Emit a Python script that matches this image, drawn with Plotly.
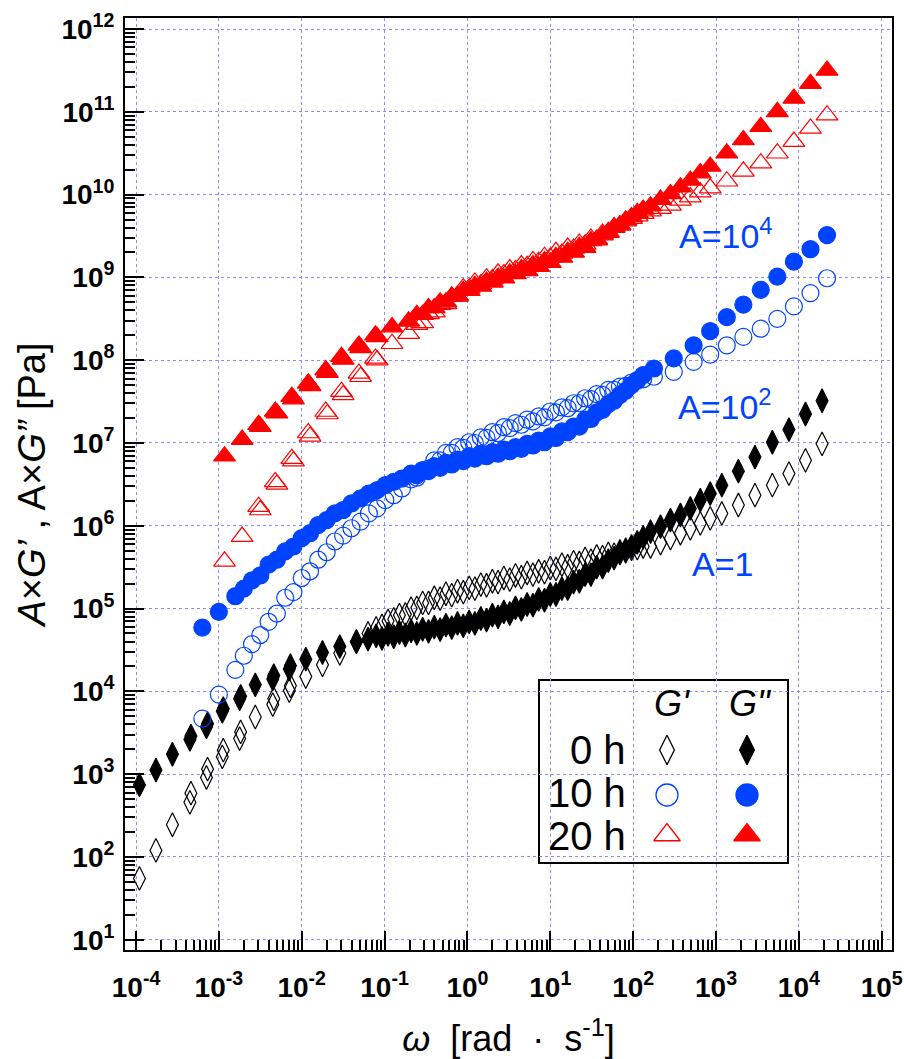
import plotly.graph_objects as go

# ---------------- data (plotted values A x G', A x G'') ----------------
# 0 h  (A = 1)
omega_0h_low = [1.10e-4, 1.74e-4, 2.75e-4, 4.47e-4, 4.60e-4, 7.08e-4, 7.30e-4, 1.10e-3, 1.13e-3,
                1.78e-3, 1.83e-3, 2.75e-3, 4.47e-3, 4.60e-3, 7.08e-3, 7.30e-3, 1.12e-2, 1.78e-2,
                2.88e-2, 4.57e-2, 6.31e-2]
Gp_0h_low = [55, 120, 245, 457, 589, 912, 1150, 1620, 1950, 2690, 3240, 4900, 6920, 8130,
             1.02e4, 1.17e4, 1.51e4, 2.09e4, 2.88e4, 3.98e4, 5.01e4]
Gpp_0h_low = [741, 1120, 1740, 2630, 2880, 3720, 4070, 5750, 6170, 8130, 8710, 1.20e4, 1.41e4,
              1.55e4, 1.86e4, 2.04e4, 2.45e4, 2.95e4, 3.47e4, 3.98e4, 4.27e4]

omega_mid = [0.079, 0.093, 0.110, 0.129, 0.151, 0.178, 0.209, 0.245, 0.288, 0.339, 0.398, 0.468,
             0.550, 0.646, 0.759, 0.891, 1.05, 1.23, 1.45, 1.70, 2.00, 2.34, 2.75, 3.24, 3.80,
             4.47, 5.25, 6.17, 7.24, 8.51, 10.0, 11.7, 13.8, 16.2, 19.1, 22.4, 26.3, 30.9, 36.3,
             42.7, 50.1, 58.9, 69.2, 81.3, 95.5, 112, 132]
Gp_0h_mid = [5.75e4, 6.17e4, 7.08e4, 7.41e4, 8.32e4, 8.51e4, 1.00e5, 1.02e5, 1.17e5, 1.17e5,
             1.35e5, 1.32e5, 1.51e5, 1.45e5, 1.62e5, 1.58e5, 1.78e5, 1.74e5, 1.95e5, 1.91e5,
             2.14e5, 2.09e5, 2.34e5, 2.24e5, 2.51e5, 2.40e5, 2.69e5, 2.57e5, 2.82e5, 2.75e5,
             3.09e5, 3.02e5, 3.39e5, 3.24e5, 3.63e5, 3.55e5, 3.98e5, 3.80e5, 4.27e5, 4.17e5,
             4.57e5, 4.47e5, 4.90e5, 4.90e5, 5.25e5, 5.37e5, 5.62e5]
Gpp_0h_mid = [4.68e4, 4.37e4, 4.90e4, 4.57e4, 5.13e4, 4.79e4, 5.37e4, 5.01e4, 5.62e4, 5.31e4,
              5.96e4, 5.56e4, 6.31e4, 5.89e4, 6.61e4, 6.17e4, 6.92e4, 6.61e4, 7.59e4, 7.24e4,
              8.32e4, 7.94e4, 9.12e4, 8.71e4, 1.02e5, 9.77e4, 1.12e5, 1.10e5, 1.29e5, 1.26e5,
              1.48e5, 1.48e5, 1.74e5, 1.74e5, 2.09e5, 2.14e5, 2.57e5, 2.57e5, 3.16e5, 3.16e5,
              3.80e5, 4.07e5, 4.68e5, 5.13e5, 5.62e5, 6.31e5, 7.24e5]

omega_0h_high = [162, 214, 282, 372, 490, 646, 851, 1175, 1862, 2951, 4786, 7586, 12020, 19050]
Gp_0h_high = [5.62e5, 6.17e5, 7.08e5, 8.13e5, 9.33e5, 1.07e6, 1.23e6, 1.41e6, 1.78e6, 2.34e6,
              3.09e6, 4.27e6, 6.17e6, 9.77e6]
Gpp_0h_high = [8.51e5, 9.77e5, 1.17e6, 1.35e6, 1.62e6, 2.04e6, 2.45e6, 3.09e6, 4.57e6, 6.76e6,
               1.02e7, 1.45e7, 2.24e7, 3.24e7]

# 10 h  (A = 1e2)
omega_10h_low = [6.31e-4, 1.0e-3, 1.58e-3, 2.0e-3, 2.51e-3, 3.16e-3, 3.98e-3, 5.01e-3, 6.31e-3,
                 7.94e-3, 1.0e-2, 1.26e-2, 1.58e-2, 2.0e-2, 2.51e-2, 3.16e-2, 3.98e-2, 5.13e-2,
                 6.46e-2, 8.13e-2, 0.102, 0.129, 0.162]
Gp_10h_low = [4.68e3, 9.12e3, 1.82e4, 2.69e4, 3.72e4, 4.79e4, 6.92e4, 8.71e4, 1.35e5, 1.58e5,
              2.34e5, 2.82e5, 3.89e5, 4.79e5, 6.46e5, 7.59e5, 9.33e5, 1.12e6, 1.41e6, 1.62e6,
              2.04e6, 2.34e6, 2.82e6]
Gpp_10h_low = [5.89e4, 9.12e4, 1.41e5, 1.74e5, 2.19e5, 2.51e5, 3.39e5, 3.89e5, 4.90e5, 5.62e5,
               7.08e5, 8.13e5, 1.02e6, 1.17e6, 1.41e6, 1.55e6, 1.86e6, 2.14e6, 2.45e6, 2.69e6,
               3.09e6, 3.39e6, 3.72e6]
Gp_10h_mid = [3.63e6, 3.80e6, 4.68e6, 4.90e6, 6.17e6, 6.17e6, 7.59e6, 7.59e6, 8.91e6, 8.71e6,
              1.02e7, 1.00e7, 1.17e7, 1.15e7, 1.35e7, 1.32e7, 1.55e7, 1.51e7, 1.74e7, 1.66e7,
              1.91e7, 1.82e7, 2.09e7, 2.04e7, 2.40e7, 2.34e7, 2.69e7, 2.63e7, 3.02e7, 3.02e7,
              3.47e7, 3.39e7, 3.89e7, 3.80e7, 4.37e7, 4.37e7, 4.79e7, 4.90e7, 5.37e7, 5.62e7,
              5.89e7]
Gpp_10h_mid = [4.27e6, 4.07e6, 4.68e6, 4.57e6, 5.25e6, 5.01e6, 5.75e6, 5.50e6, 6.31e6, 6.03e6,
               6.92e6, 6.46e6, 7.41e6, 6.92e6, 7.76e6, 7.41e6, 8.32e6, 7.94e6, 8.91e6, 8.51e6,
               9.77e6, 9.33e6, 1.07e7, 1.02e7, 1.20e7, 1.15e7, 1.38e7, 1.35e7, 1.58e7, 1.58e7,
               1.91e7, 1.95e7, 2.34e7, 2.51e7, 2.95e7, 3.24e7, 3.80e7, 4.27e7, 5.01e7, 5.75e7,
               6.61e7]
omega_10h_high = [178, 309, 537, 851, 1349, 2138, 3467, 5495, 8710, 13800, 21880]
Gp_10h_high = [6.31e7, 7.24e7, 9.55e7, 1.17e8, 1.51e8, 1.91e8, 2.40e8, 3.16e8, 4.47e8, 6.46e8,
               9.77e8]
Gpp_10h_high = [7.94e7, 1.05e8, 1.51e8, 2.24e8, 3.31e8, 4.68e8, 7.08e8, 1.02e9, 1.55e9, 2.19e9,
                3.24e9]

# 20 h  (A = 1e4)
omega_20h_low = [1.17e-3, 1.91e-3, 3.02e-3, 3.16e-3, 4.79e-3, 5.01e-3, 7.59e-3, 7.94e-3, 1.20e-2,
                 1.26e-2, 1.95e-2, 2.04e-2, 3.02e-2, 3.16e-2, 4.90e-2, 5.13e-2, 7.76e-2, 8.13e-2,
                 0.123, 0.195]
Gp_20h_low = [3.72e5, 7.41e5, 1.70e6, 1.55e6, 3.39e6, 3.16e6, 6.46e6, 6.03e6, 1.32e7, 1.20e7,
              2.40e7, 2.24e7, 4.17e7, 3.80e7, 6.92e7, 6.31e7, 1.05e8, 1.0e8, 1.58e8, 2.09e8]
Gpp_20h_low = [6.92e6, 1.10e7, 1.66e7, 1.58e7, 2.40e7, 2.29e7, 3.63e7, 3.39e7, 5.25e7, 4.90e7,
               7.59e7, 7.08e7, 1.10e8, 1.02e8, 1.51e8, 1.41e8, 2.0e8, 1.91e8, 2.51e8, 2.95e8]
Gp_20h_mid = [2.69e8, 2.82e8, 3.63e8, 3.80e8, 4.68e8, 4.79e8, 5.89e8, 6.03e8, 7.41e8, 7.41e8,
              8.71e8, 8.32e8, 9.77e8, 9.55e8, 1.12e9, 1.10e9, 1.26e9, 1.23e9, 1.41e9, 1.38e9,
              1.58e9, 1.55e9, 1.78e9, 1.74e9, 2.04e9, 1.95e9, 2.29e9, 2.24e9, 2.57e9, 2.51e9,
              2.95e9, 2.88e9, 3.39e9, 3.55e9, 3.98e9, 4.27e9, 4.79e9, 5.13e9, 5.50e9, 5.89e9]
Gpp_20h_mid = [3.55e8, 3.55e8, 4.27e8, 4.27e8, 5.01e8, 5.01e8, 5.89e8, 5.89e8, 6.92e8, 6.92e8,
               7.94e8, 7.76e8, 8.91e8, 8.71e8, 1.00e9, 9.77e8, 1.12e9, 1.10e9, 1.26e9, 1.20e9,
               1.41e9, 1.35e9, 1.58e9, 1.51e9, 1.78e9, 1.74e9, 2.04e9, 2.00e9, 2.34e9, 2.29e9,
               2.75e9, 2.82e9, 3.24e9, 3.47e9, 4.07e9, 4.27e9, 4.90e9, 5.37e9, 6.03e9, 6.61e9]
omega_20h_high = [162, 214, 282, 372, 490, 646, 851, 1349, 2138, 3467, 5495, 8710, 13800, 21880]
Gp_20h_high = [6.31e9, 6.76e9, 7.41e9, 8.51e9, 9.33e9, 1.07e10, 1.20e10, 1.45e10, 1.91e10,
               2.40e10, 3.16e10, 4.37e10, 6.31e10, 9.12e10]
Gpp_20h_high = [7.24e9, 8.71e9, 1.02e10, 1.23e10, 1.48e10, 1.82e10, 2.19e10, 3.16e10, 4.57e10,
                6.61e10, 1.0e11, 1.45e11, 2.19e11, 3.16e11]

x_tick_exps = list(range(-4, 6))
y_tick_exps = list(range(1, 13))
time_labels = ["0 h", "10 h", "20 h"]
shift_labels = ["A=10<sup>4</sup>", "A=10<sup>2</sup>", "A=1"]

# ---------------- styling ----------------
FONT = "Liberation Sans, Arial, Helvetica, sans-serif"
BLACK = "#000000"
BLUE = "#0043FF"
RED = "#FF0000"
GRID = "#8C8CFF"

W, H = 904, 1059
L, R, T, B = 125, 892, 18, 950   # plot-area pixel edges


def px(x):
    return (x - L) / (R - L)


def py(y):
    return (B - y) / (B - T)


series = [
    (omega_0h_low + omega_mid + omega_0h_high, Gpp_0h_low + Gpp_0h_mid + Gpp_0h_high,
     "diamond-tall", BLACK, 17),
    (omega_0h_low + omega_mid + omega_0h_high, Gp_0h_low + Gp_0h_mid + Gp_0h_high,
     "diamond-tall-open", BLACK, 17),
    (omega_10h_low + omega_mid[6:] + omega_10h_high, Gpp_10h_low + Gpp_10h_mid + Gpp_10h_high,
     "circle", BLUE, 17),
    (omega_10h_low + omega_mid[6:] + omega_10h_high, Gp_10h_low + Gp_10h_mid + Gp_10h_high,
     "circle-open", BLUE, 17),
    (omega_20h_low + omega_mid[7:] + omega_20h_high, Gpp_20h_low + Gpp_20h_mid + Gpp_20h_high,
     "triangle-up", RED, 19),
    (omega_20h_low + omega_mid[7:] + omega_20h_high, Gp_20h_low + Gp_20h_mid + Gp_20h_high,
     "triangle-up-open", RED, 19),
]

fig = go.Figure()
for xs, ys, sym, col, size in series:
    fig.add_trace(go.Scatter(
        x=xs, y=ys, mode="markers", showlegend=False, cliponaxis=True,
        marker=dict(symbol=sym, size=size, color=col, opacity=1,
                    line=dict(color=col, width=1.2)),
    ))

# custom legend markers (drawn on an overlay axis in plot-pixel units)
leg_x = [667, 747, 667, 747, 667, 747]
leg_y = [750, 750, 795, 795, 835, 835]
leg_sym = ["diamond-tall-open", "diamond-tall", "circle-open", "circle", "triangle-up-open", "triangle-up"]
leg_col = [BLACK, BLACK, BLUE, BLUE, RED, RED]
leg_size = [21, 21, 22, 22, 23, 23]
fig.add_trace(go.Scatter(
    x=leg_x, y=leg_y, xaxis="x2", yaxis="y2", mode="markers", showlegend=False,
    marker=dict(symbol=leg_sym, size=leg_size, color=leg_col, opacity=1,
                line=dict(color=leg_col, width=1.3)),
))

minor_x = [m * 10.0 ** k for k in range(-4, 5) for m in range(2, 10)]
minor_y = [m * 10.0 ** k for k in range(1, 12) for m in range(2, 10)]

axis_common = dict(
    type="log", showline=True, mirror=True, linecolor=BLACK, linewidth=2,
    ticks="inside", ticklen=19, tickwidth=1.6, tickcolor=BLACK,
    showgrid=True, gridcolor=GRID, griddash="dot", gridwidth=1, zeroline=False,
    tickfont=dict(family=FONT, size=28, color=BLACK),
)

fig.update_layout(
    width=W, height=H,
    margin=dict(l=L, r=W - R, t=T, b=H - B, autoexpand=False),
    paper_bgcolor="white", plot_bgcolor="white",
    xaxis=dict(
        **axis_common,
        range=[-4.133, 5.124],
        tickmode="array", tickvals=[10.0 ** e for e in x_tick_exps],
        ticktext=["<b>10<sup>%d</sup></b>" % e for e in x_tick_exps],
        minor=dict(tickmode="array", tickvals=minor_x, ticks="inside", ticklen=10,
                   tickwidth=1.6, tickcolor=BLACK, showgrid=False),
        ticklabelstandoff=11,
        title=dict(text="<i>ω</i>  [rad  ·  s<sup>-1</sup>]",
                   font=dict(family=FONT, size=36, color=BLACK), standoff=24),
    ),
    yaxis=dict(
        **axis_common,
        range=[0.876, 12.133],
        tickmode="array", tickvals=[10.0 ** e for e in y_tick_exps],
        ticktext=["<b>10<sup>%d</sup></b>" % e for e in y_tick_exps],
        minor=dict(tickmode="array", tickvals=minor_y, ticks="inside", ticklen=10,
                   tickwidth=1.6, tickcolor=BLACK, showgrid=False),
        ticklabelstandoff=3,
        title=dict(text="<i>A</i>×<i>G’</i> , A×<i>G”</i> [Pa]",
                   font=dict(family=FONT, size=38, color=BLACK), standoff=4),
    ),
    xaxis2=dict(overlaying="x", range=[L, R], visible=False, fixedrange=True),
    yaxis2=dict(overlaying="y", range=[B, T], visible=False, fixedrange=True),
)

# legend box
fig.add_shape(type="rect", xref="paper", yref="paper",
              x0=px(539), x1=px(788), y0=py(863), y1=py(680),
              line=dict(color=BLACK, width=2), fillcolor="white", layer="between")

ann = []
ann.append(dict(x=px(672), y=py(703), text="<i>G'</i>", font=dict(size=36)))
ann.append(dict(x=px(750), y=py(703), text='<i>G"</i>', font=dict(size=36)))
for lab, yy in zip(time_labels, [750, 793, 836]):
    ann.append(dict(x=px(628), y=py(yy), text=lab, xanchor="right", font=dict(size=40)))
for lab, (xx, yy) in zip(shift_labels, [(726, 233), (725, 404), (722, 564)]):
    ann.append(dict(x=px(xx), y=py(yy), text=lab, font=dict(size=34, color=BLUE)))

for a in ann:
    f = dict(family=FONT, color=BLACK)
    f.update(a.pop("font"))
    a.setdefault("xanchor", "center")
    fig.add_annotation(xref="paper", yref="paper", yanchor="middle", showarrow=False,
                       font=f, **a)

fig.write_html("out.html")
